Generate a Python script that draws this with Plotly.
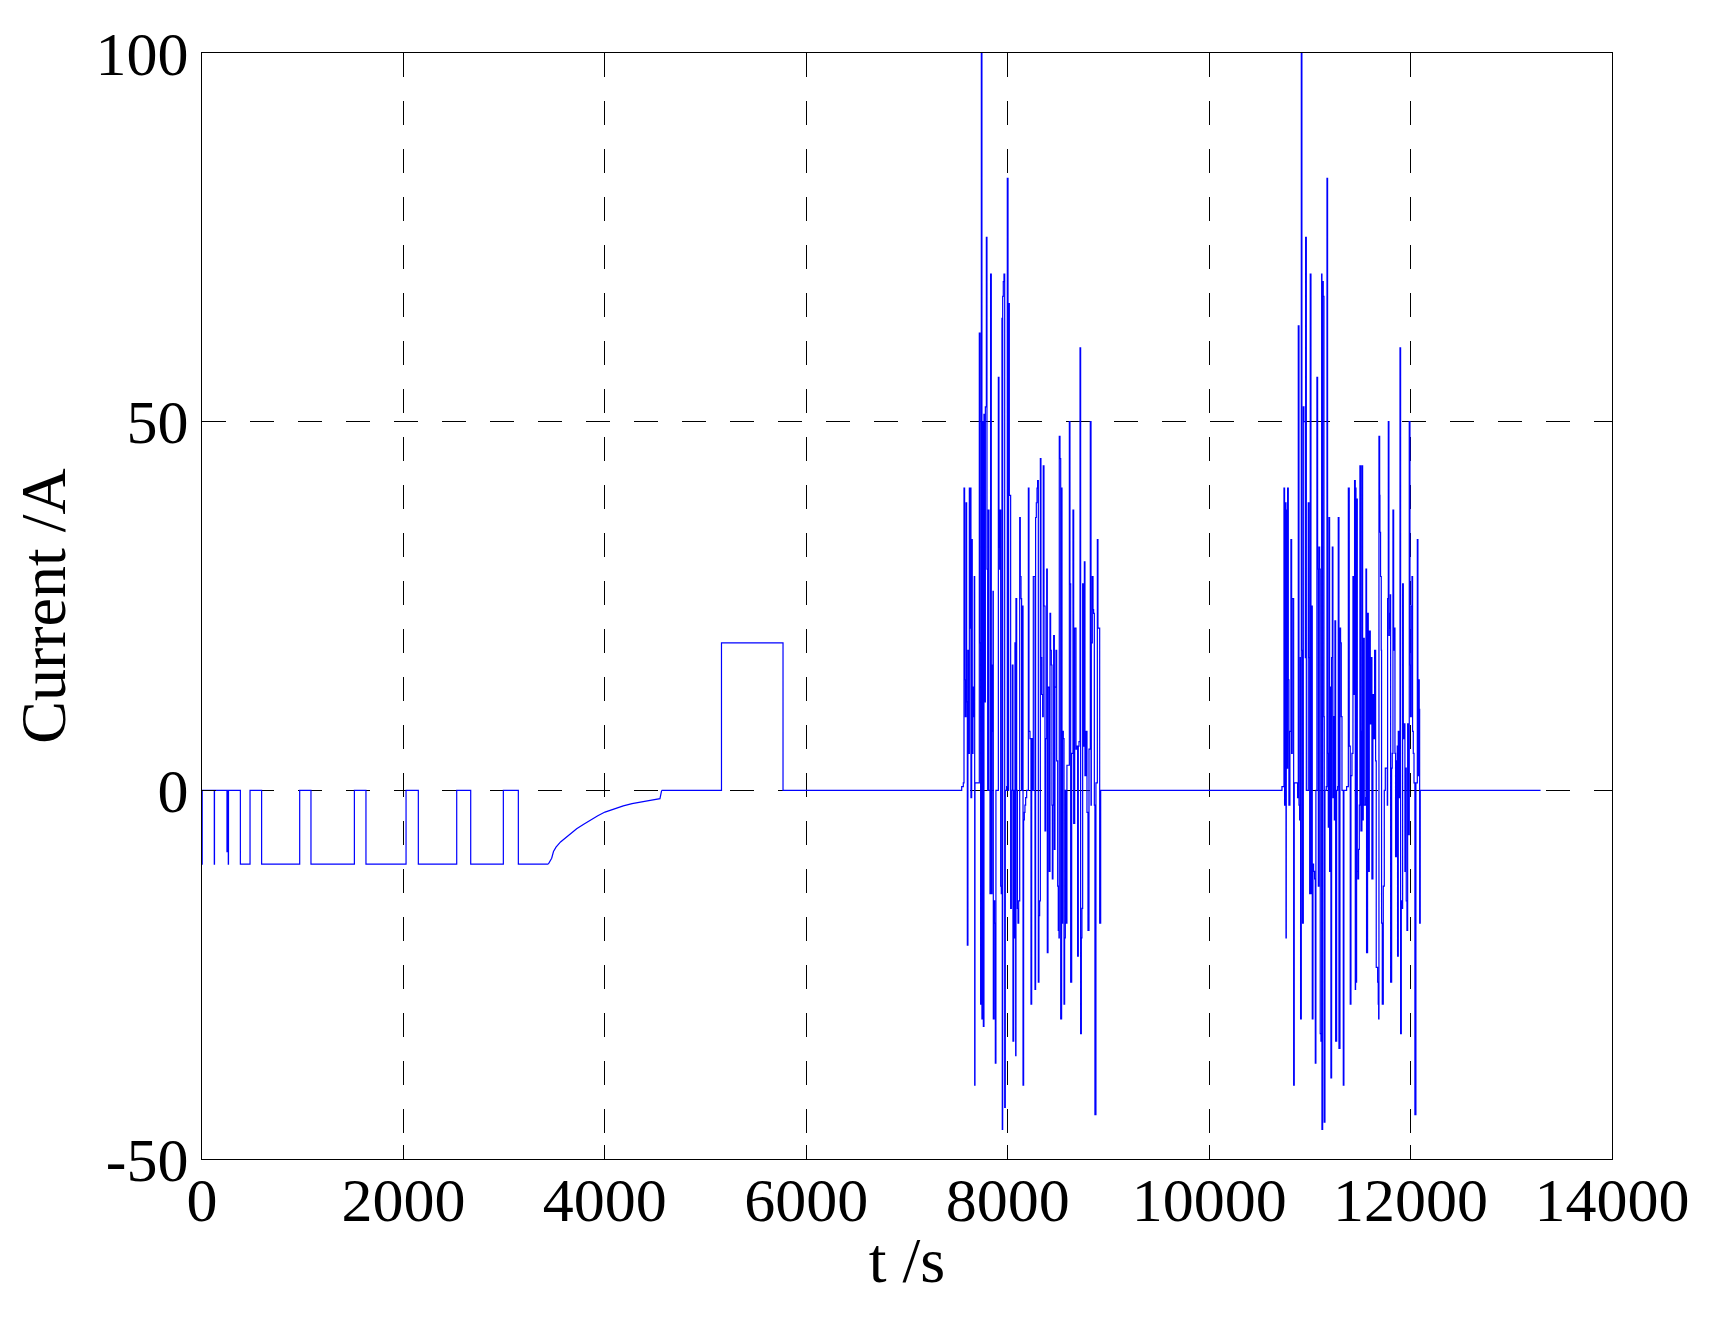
import plotly.graph_objects as go

# ── DATA ────────────────────────────────────────────────────────────────────
# pulse discharge section, step values (held until the next time)
pulse_t = [0, 2, 122, 124, 248, 251, 261, 263, 381, 477, 592, 970, 1082, 1513,
           1628, 2026, 2148, 2529, 2668, 2992, 3141, 3439]
pulse_i = [-10, 0, -10, 0, -8.3, 0, -10, 0, -10, 0, -10, 0, -10, 0,
           -10, 0, -10, 0, -10, 0, -10, -10]

# relaxation tail back towards zero
relax_t = [3439, 3460, 3472, 3490, 3515, 3560, 3621, 3680, 3720, 3790, 3852,
           3930, 4001, 4090, 4183, 4270, 4349, 4450, 4547, 4564]
relax_i = [-10, -9.6, -9.2, -8.3, -7.7, -7.0, -6.3, -5.7, -5.2, -4.6, -4.05,
           -3.45, -2.95, -2.5, -2.1, -1.8, -1.58, -1.35, -1.13, 0]

# rest and charge pulse
charge_t = [4564, 5158, 5769]
charge_i = [0, 20, 0]

# first dynamic profile
dyn1_t = [7543, 7559, 7566, 7572, 7579, 7586, 7592, 7599, 7605, 7612, 7619, 7625,
          7632, 7635, 7642, 7648, 7655, 7662, 7668, 7672, 7675, 7718, 7725, 7731,
          7738, 7744, 7751, 7758, 7764, 7771, 7778, 7788, 7794, 7801, 7807, 7814,
          7824, 7830, 7837, 7844, 7847, 7854, 7857, 7864, 7870, 7877, 7883, 7907,
          7913, 7920, 7923, 7930, 7936, 7943, 7946, 7950, 7956, 7963, 7970, 7976,
          7989, 7996, 8003, 8009, 8016, 8023, 8029, 8036, 8046, 8052, 8059, 8066,
          8072, 8079, 8082, 8089, 8096, 8102, 8109, 8119, 8125, 8132, 8138, 8145,
          8152, 8158, 8165, 8171, 8178, 8188, 8205, 8211, 8221, 8231, 8238, 8248,
          8254, 8271, 8277, 8284, 8291, 8297, 8304, 8310, 8317, 8324, 8330, 8337,
          8347, 8353, 8360, 8370, 8377, 8387, 8393, 8400, 8413, 8420, 8426, 8433,
          8439, 8443, 8449, 8456, 8463, 8469, 8479, 8486, 8496, 8502, 8509, 8512,
          8519, 8526, 8535, 8539, 8545, 8552, 8559, 8565, 8572, 8582, 8588, 8612,
          8618, 8625, 8635, 8648, 8655, 8665, 8678, 8688, 8694, 8701, 8708, 8718,
          8724, 8731, 8737, 8744, 8754, 8761, 8767, 8777, 8787, 8797, 8807, 8820,
          8827, 8830, 8840, 8847, 8853, 8860, 8866, 8876, 8890, 8896, 8906, 8913,
          8923]
dyn1_i = [0.5, 1, 41, 15, 10, 39, 12, -21, 19, 5, 41, 22,
          41, -1, 34, 5, 14, 10, 29, -40, 1, 62, 20, -29,
          100, -31, 50, -32, 51, 12, 52, 75, 30, 0, 38, 0,
          -14, 70, -14, 17, 8, 27, -31, -15, -18, -37, 0, 56,
          33, 30, 38, -13, -14, 64, -46, 67, 69, 70, -43, 0,
          0.5, 83, 0, 66, 40, 40, -16, 0, 17, -34, 0, -20,
          20, -36, 26, 0, -16, -18, -15, 37, 29, 26, 0, 25,
          -40, -4, -3, -2, -1, 0, 41, 8, 7, -29, 7, 0,
          29, -27, 37, 39, 41, 42, -26, -17, -15, 45, 18, 13,
          10, 44, 25, -5.5, 7, 30, -22, 14, -11, 24, 19, 17,
          -2, -12, -2, 21, -8, 14, 19, 4, -13, -19, -20, 48,
          45, -31, 41, -18, 8, 7, -29, -20, 0, -18, 3.4, 50,
          28, -26, 5, 38, -4.5, 22, 5.6, 6, -22.5, 6, 6.6, 60,
          -33, -20, -16, 28, 6, 31, 2, 8, -3, -19, 5.6, 50,
          -2, 20, 29, 24.5, 24, -2, -44, 1, 34, 22, 22, -18,
          0]

# second dynamic profile
dyn2_t = [10723, 10736, 10743, 10749, 10753, 10756, 10763, 10766, 10772, 10779,
          10786, 10792, 10802, 10812, 10819, 10825, 10832, 10839, 10845, 10878,
          10885, 10892, 10898, 10905, 10908, 10915, 10921, 10928, 10935, 10941,
          10948, 10955, 10958, 10965, 10984, 10991, 10998, 11004, 11011, 11017,
          11024, 11031, 11037, 11047, 11054, 11060, 11070, 11077, 11084, 11090,
          11097, 11103, 11110, 11117, 11120, 11127, 11133, 11140, 11143, 11150,
          11163, 11170, 11176, 11183, 11190, 11196, 11203, 11209, 11216, 11223,
          11229, 11236, 11243, 11249, 11256, 11266, 11276, 11282, 11289, 11299,
          11305, 11312, 11319, 11332, 11338, 11365, 11382, 11391, 11401, 11408,
          11418, 11428, 11434, 11444, 11451, 11454, 11458, 11464, 11471, 11477,
          11484, 11491, 11497, 11504, 11507, 11517, 11524, 11530, 11540, 11554,
          11557, 11563, 11573, 11580, 11583, 11590, 11600, 11610, 11616, 11626,
          11633, 11643, 11653, 11659, 11673, 11679, 11683, 11686, 11693, 11696,
          11702, 11709, 11712, 11719, 11729, 11739, 11749, 11769, 11772, 11779,
          11785, 11789, 11795, 11799, 11802, 11812, 11818, 11825, 11832, 11838,
          11845, 11851, 11861, 11868, 11871, 11878, 11885, 11895, 11901, 11908,
          11914, 11921, 11928, 11938, 11944, 11951, 11957, 11964, 11971, 11977,
          11987, 11994, 12000, 12007, 12014, 12020, 12027, 12034, 12043, 12053,
          12067, 12073, 12080, 12086, 12090, 12096]
dyn2_i = [0.5, 0.5, 41, -2, 18, 39, -20, 38, 3, 41,
          15, -2, 8, 34, 5, 26, 26, -40, 1, -1,
          63, -2, -4, 18, -31, 100, 19, -18, 52, 50,
          50, 18, 75, 0, 39, 18, -14, 70, -14, 25,
          -31, -10, -11, -12, -37, 0, 56, 30, -13, 33,
          30, -33, -34, 70, -46, 69, 67, 10, -45, 0,
          0.5, 83, 5, -5, 37, -11, 14, -39, 18, 33,
          -1, 10, -4, 23, -34, 0, 0.5, 37, -35, 22,
          20, 10, 0, -40, 0, 0.5, 41, 6, -29, 2,
          5, 29, 13, 42, -27, 41, -26, 39.5, -11, -12,
          -8, -2, 44, 8, -5.5, 44, -4, 20.6, -2, -1,
          30, -22, 24, 17, -11, 21.6, 9, 18, -12, 13,
          7, 19, 4, -24, -26, -29, -31, 48, 40, 35,
          29, 19, -18, -29, -13, 0, 3, -2, 26, 50,
          21, 24, 22, 26.5, -26, 3, 5, 38, 19, 22,
          5, -9, 4, 6, -22.5, 8, -1, 60, -33, -15,
          -16, 28, 7, 9, -11, 3, -15, -19, 9, -6,
          50, 17, 10, 25, 29, 8, 5, 1, -44, 1,
          34, 2, 15, 11, -18, 0]

end_t = 13291

x_ticks = [0, 2000, 4000, 6000, 8000, 10000, 12000, 14000]
x_labels = ["0", "2000", "4000", "6000", "8000", "10000", "12000", "14000"]
y_ticks = [-50, 0, 50, 100]
y_labels = ["-50", "0", "50", "100"]

# ── FIGURE ──────────────────────────────────────────────────────────────────
line_style = dict(color="#0000ff", width=1.2)

step_t = charge_t + dyn1_t + dyn2_t + [end_t]
step_i = charge_i + dyn1_i + dyn2_i + [0]

fig = go.Figure()
fig.add_trace(go.Scatter(x=pulse_t, y=pulse_i, mode="lines",
                         line=dict(shape="hv", **line_style)))
fig.add_trace(go.Scatter(x=relax_t, y=relax_i, mode="lines", line=line_style))
fig.add_trace(go.Scatter(x=step_t, y=step_i, mode="lines",
                         line=dict(shape="hv", **line_style)))

axis_common = dict(
    showgrid=True, gridcolor="black", gridwidth=1.3, griddash="24px,24px",
    showline=True, linecolor="black", linewidth=1.3, mirror="ticks",
    ticks="inside", ticklen=14, tickwidth=1.3, tickcolor="black",
    zeroline=False, tickfont=dict(size=62, color="black"),
)

# the page body adds 8px, so the figure is a little smaller than the window
fig.update_layout(
    width=1711, height=1313,
    margin=dict(l=194, r=107, t=40, b=162),
    paper_bgcolor="white", plot_bgcolor="white",
    showlegend=False,
    font=dict(family="Liberation Serif", color="black", size=62),
    xaxis=dict(range=[0, 14000], tickvals=x_ticks, ticktext=x_labels,
               title=dict(text="t /s", font=dict(size=64), standoff=4),
               ticklabelstandoff=-14, **axis_common),
    yaxis=dict(range=[-50, 100], tickvals=y_ticks, ticktext=y_labels,
               title=dict(text="Current /A", font=dict(size=64), standoff=22),
               ticklabelstandoff=0, **axis_common),
)

fig.write_html("out.html")
